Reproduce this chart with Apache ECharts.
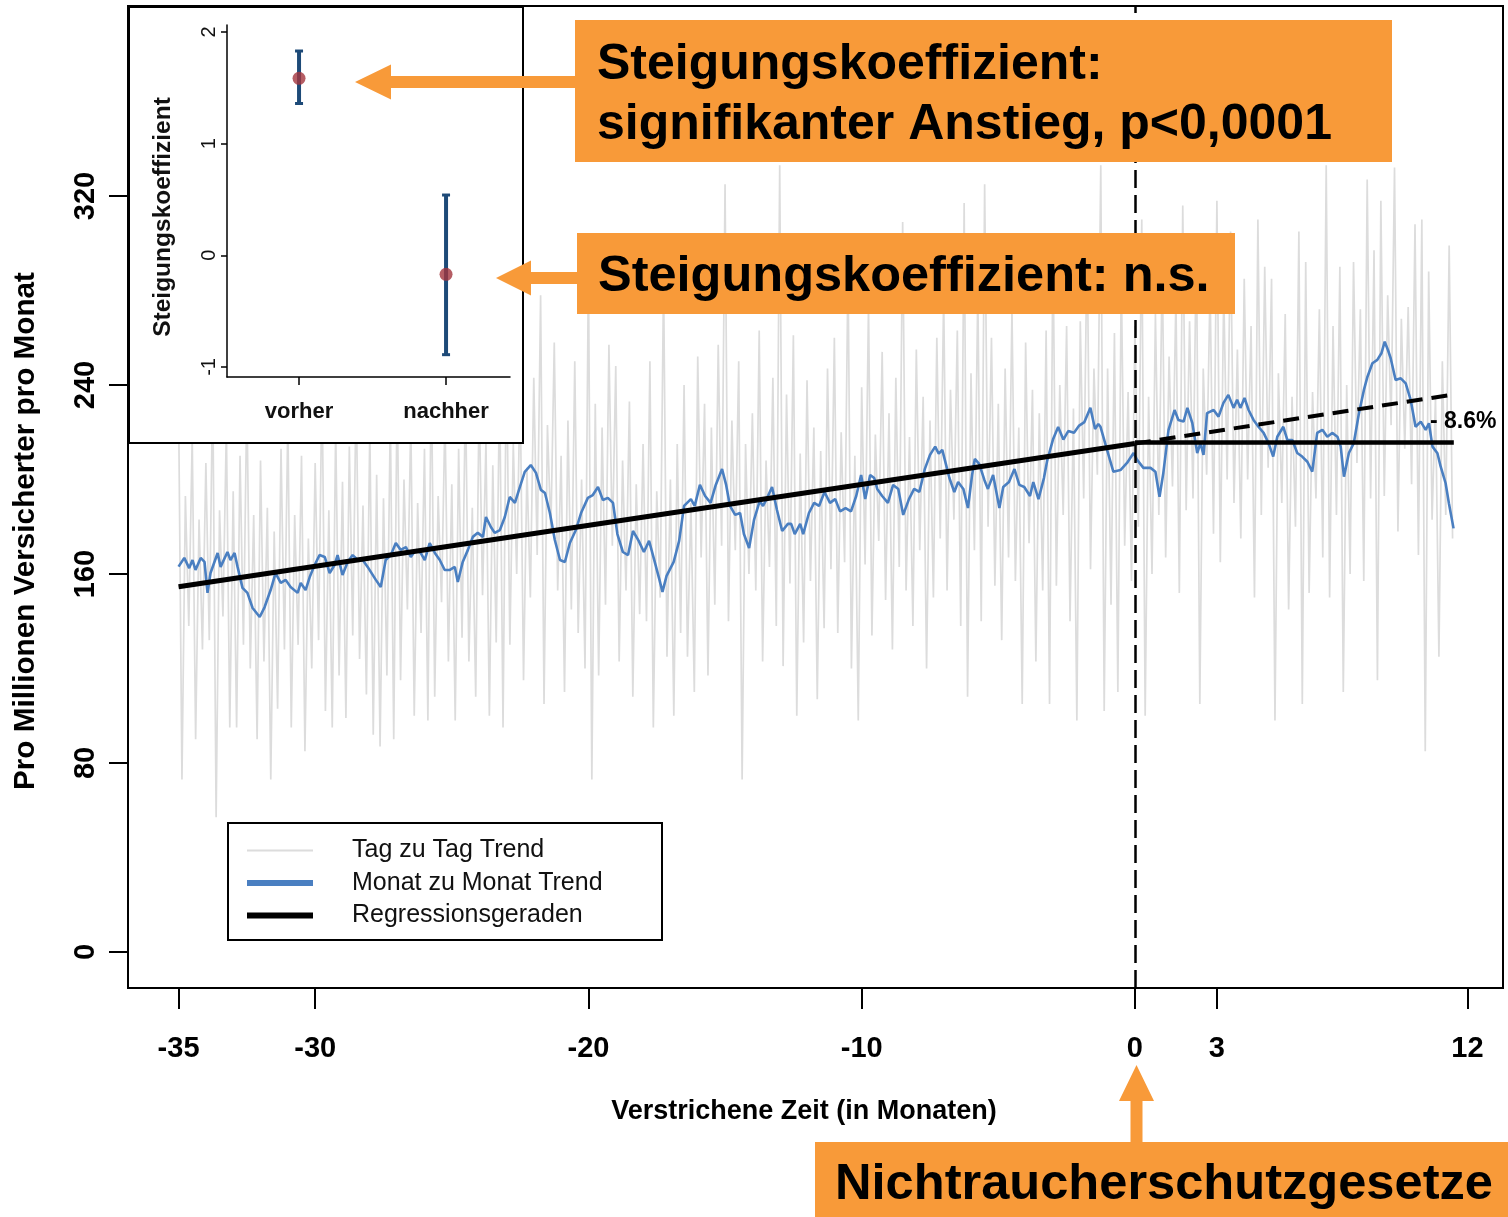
<!DOCTYPE html>
<html>
<head>
<meta charset="utf-8">
<script src="https://cdn.jsdelivr.net/npm/echarts@6/dist/echarts.min.js"></script>
<style>html,body{margin:0;padding:0;background:#fff}#c{width:1508px;height:1217px}</style>
</head>
<body>
<div id="c"></div>
<script>
// ---------------- data ----------------
const xTickValues = [-35, -30, -20, -10, 0, 3, 12.17];
const xTickLabels = ['-35', '-30', '-20', '-10', '0', '3', '12'];
const yTickValues = [0, 80, 160, 240, 320];

// Tag zu Tag Trend (one reading every 0.125 months, starting at -35)
const dailyStart = -35;
const dailyStep = 0.125;
const dailyValues = [
233,73,193,138,218,90,183,128,
207,132,242,57,187,142,222,95,
195,95,210,130,235,120,185,90,
208,123,188,73,178,103,213,128,
225,95,185,130,210,85,175,120,
207,132,242,102,187,95,222,117,
199,99,214,134,239,124,189,109,
222,92,202,87,192,117,227,90,
240,115,200,145,225,100,190,135,
213,98,248,108,193,148,228,123,
198,98,213,133,238,123,188,108,
236,151,216,100,206,131,241,95,
255,130,215,160,240,115,205,150,
243,168,278,105,223,178,258,153,
210,110,225,145,250,135,200,120,
290,73,232,117,222,147,257,172,
248,123,208,153,233,108,198,143,
215,140,250,95,195,150,285,125,
200,100,215,135,240,125,190,110,
252,167,232,117,222,147,257,172,
325,140,225,170,250,73,215,160,
228,153,263,123,208,163,243,138,
333,121,236,156,261,100,211,131,
242,157,222,107,212,137,247,162,
260,135,220,165,290,120,210,98,
239,164,274,134,219,174,254,149,
228,128,243,163,309,153,218,138,
255,170,235,120,225,150,260,175,
278,153,238,183,263,138,317,108,
245,170,280,140,325,180,260,155,
232,132,247,167,272,157,222,105,
258,173,238,123,228,153,263,105,
300,155,240,185,265,140,230,98,
267,192,302,162,247,202,333,102,
247,147,262,110,287,172,237,157,
265,180,310,100,235,160,270,185,
292,167,252,197,277,152,316,187,
267,192,302,105,247,202,282,177,
318,165,280,200,305,190,255,175,
285,200,265,150,310,185,290,205,
285,98,245,190,270,145,235,180,
305,105,292,152,237,192,272,167,
333,150,265,185,290,110,240,160,
292,207,272,157,327,192,297,115,
318,193,278,223,332,178,268,213,
273,198,308,168,310,85,288,183,
235,125,250,185,299,175
];

// Monat zu Monat Trend
const monthlyMonths = [
-35.0,-34.79,-34.61,-34.49,-34.38,-34.19,-34.05,-33.94,-33.83,-33.57,
-33.46,-33.21,-33.10,-32.95,-32.84,-32.66,-32.48,-32.29,-32.03,-31.85,
-31.63,-31.45,-31.26,-31.08,-30.90,-30.64,-30.53,-30.35,-30.20,-30.02,
-29.84,-29.65,-29.47,-29.29,-29.18,-29.00,-28.81,-28.63,-28.44,-28.26,
-28.08,-27.78,-27.60,-27.42,-27.23,-27.05,-26.87,-26.68,-26.50,-26.32,
-26.14,-25.99,-25.81,-25.62,-25.44,-25.26,-25.07,-24.89,-24.78,-24.60,
-24.41,-24.23,-24.05,-23.86,-23.75,-23.57,-23.43,-23.24,-23.06,-22.88,
-22.69,-22.51,-22.33,-22.11,-21.92,-21.74,-21.59,-21.41,-21.23,-21.04,
-20.86,-20.68,-20.46,-20.27,-20.02,-19.84,-19.65,-19.47,-19.29,-19.10,
-18.94,-18.74,-18.55,-18.37,-18.16,-17.97,-17.78,-17.60,-17.40,-17.29,
-17.14,-16.88,-16.68,-16.50,-16.25,-16.11,-15.92,-15.73,-15.53,-15.34,
-15.11,-14.96,-14.82,-14.63,-14.45,-14.31,-14.12,-13.94,-13.73,-13.61,
-13.48,-13.28,-13.10,-12.91,-12.70,-12.58,-12.45,-12.25,-12.14,-11.93,
-11.74,-11.56,-11.36,-11.16,-10.97,-10.79,-10.59,-10.39,-10.20,-10.02,
-9.87,-9.69,-9.54,-9.43,-9.25,-9.04,-8.85,-8.66,-8.48,-8.27,
-8.08,-7.89,-7.69,-7.50,-7.31,-7.18,-7.05,-6.92,-6.79,-6.61,
-6.47,-6.28,-6.11,-5.96,-5.86,-5.70,-5.51,-5.38,-5.19,-4.96,
-4.82,-4.61,-4.41,-4.23,-4.05,-3.84,-3.72,-3.53,-3.33,-3.21,
-3.00,-2.81,-2.62,-2.44,-2.23,-2.04,-1.85,-1.63,-1.46,-1.34,
-1.26,-1.02,-0.79,-0.53,-0.29,-0.05,0.08,0.31,0.57,0.75,
0.90,1.04,1.23,1.45,1.59,1.78,1.92,2.10,2.28,2.40,
2.51,2.64,2.88,3.06,3.24,3.42,3.61,3.74,3.86,4.01,
4.16,4.34,4.52,4.71,4.89,5.06,5.21,5.43,5.58,5.76,
5.94,6.12,6.31,6.49,6.67,6.86,7.04,7.22,7.41,7.53,
7.65,7.83,8.01,8.20,8.38,8.51,8.69,8.87,9.02,9.14,
9.26,9.36,9.54,9.73,9.91,10.09,10.27,10.46,10.64,10.76,
10.89,11.07,11.19,11.37,11.49,11.66
];
const monthlyValues = [
163.1,166.8,162.5,165.9,161.7,166.8,165.1,152.0,160.4,168.9,
163.0,169.3,165.9,168.9,163.0,154.1,152.0,145.6,141.8,146.0,
153.2,160.4,156.2,157.5,154.5,152.0,156.2,153.2,158.7,163.8,
168.0,167.2,160.4,163.8,168.0,159.6,165.1,168.0,165.9,165.9,
163.0,157.5,154.5,165.9,168.0,173.1,170.2,171.4,167.2,170.2,
168.9,165.9,173.1,168.9,165.9,161.7,161.7,163.0,156.6,165.1,
170.2,175.7,177.4,175.7,184.1,179.9,177.4,178.6,184.1,192.6,
190.1,196.8,203.2,206.1,202.8,195.6,194.3,185.8,174.4,165.9,
165.1,173.1,178.6,185.8,192.2,193.4,196.8,191.3,192.2,190.1,
176.9,169.3,168.0,178.2,174.0,169.3,174.0,166.3,157.5,152.4,
159.2,165.1,174.0,188.8,191.7,188.8,197.7,193.0,190.1,197.7,
204.4,197.7,188.8,185.0,185.8,176.9,171.0,182.9,190.9,188.8,
191.7,196.8,187.1,178.2,181.2,181.2,176.9,181.2,176.9,185.8,
190.1,188.8,194.7,190.1,191.7,186.5,187.9,186.5,193.0,201.9,
191.7,201.9,200.6,196.0,193.0,190.1,197.7,196.0,185.0,191.7,
196.0,194.7,204.4,210.4,213.9,210.9,212.5,206.6,200.6,194.7,
198.9,196.0,187.9,201.9,208.7,206.6,199.8,196.0,201.9,187.9,
196.8,198.9,204.4,197.7,196.8,193.0,198.9,191.7,200.6,208.0,
216.9,222.2,216.9,220.5,219.8,222.8,224.3,230.3,221.4,223.5,
222.3,212.5,203.3,204.0,207.0,211.2,208.3,204.9,204.9,203.3,
192.7,202.8,221.0,229.4,225.2,224.5,230.3,223.9,211.2,215.4,
210.4,228.1,229.4,226.6,232.4,235.8,230.3,233.7,230.3,234.5,
229.4,225.2,222.3,219.7,215.4,209.7,218.1,222.3,216.7,216.7,
211.2,209.7,207.5,203.3,219.7,221.0,218.1,219.7,218.1,213.9,
201.2,211.2,215.4,228.1,237.9,243.5,249.2,250.6,253.4,258.3,
254.8,251.3,242.1,242.8,240.7,233.7,222.3,224.5,221.0,223.8,
213.9,211.1,205.4,198.4,189.9,179.3
];

// Regressionsgeraden
const regBeforeX = [-35, 0];
const regBeforeY = [154.6, 215.2];
const regAfterX = [0, 11.67];
const regAfterY = [215.6, 215.6];
const counterX = [0, 11.58];
const counterY = [215.2, 235.8];

// Inset: Steigungskoeffizient
const insetCategories = ['vorher', 'nachher'];
const insetCoef = [1.585, -0.17];
const insetLow = [1.36, -0.89];
const insetHigh = [1.83, 0.54];
const insetTicks = [-1, 0, 1, 2];

// ---------------- chart ----------------
const FONT = '"Liberation Sans", Arial, sans-serif';
const ORANGE = '#F89A39';
const chart = echarts.init(document.getElementById('c'), null, {renderer: 'canvas', width: 1508, height: 1217});

const insetIdx = insetCategories.map((c, i) => i);

const option = {
  animation: false,
  backgroundColor: '#ffffff',
  grid: [
    {left: 128, top: 6, right: 5, bottom: 229, show: true, borderColor: '#000', borderWidth: 2, backgroundColor: 'transparent', outerBoundsMode: 'none', containLabel: false},
    {left: 227, top: 25, width: 283, height: 352, outerBoundsMode: 'none', containLabel: false}
  ],
  legend: {
    data: [
      {name: 'Tag zu Tag Trend', icon: 'path://M0,0L0.01,0M0,6L0.01,6M0,2H67V4H0Z'},
      {name: 'Monat zu Monat Trend', icon: 'rect'},
      {name: 'Regressionsgeraden', icon: 'rect'}
    ],
    orient: 'vertical', left: 247, top: 837, padding: 0, itemGap: 5.5,
    itemWidth: 66, itemHeight: 6, selectedMode: false, z: 60,
    textStyle: {fontFamily: FONT, fontSize: 25, color: '#111', padding: [0, 0, 0, 34], lineHeight: 27}
  },
  xAxis: [
    {
      type: 'value', gridIndex: 0, min: -36.85, max: 13.47,
      axisLine: {show: true, onZero: false, lineStyle: {color: '#000', width: 2}},
      axisTick: {show: true, customValues: xTickValues, length: 21, lineStyle: {color: '#000', width: 2}},
      axisLabel: {customValues: xTickValues, formatter: v => xTickLabels[xTickValues.indexOf(v)],
        fontFamily: FONT, fontSize: 29, fontWeight: 'bold', color: '#000', margin: 46},
      splitLine: {show: false},
      name: 'Verstrichene Zeit (in Monaten)', nameLocation: 'middle', nameGap: 110,
      nameTextStyle: {fontFamily: FONT, fontSize: 27, fontWeight: 'bold', color: '#000', padding: [0, 23, 0, 0]}
    },
    {
      type: 'value', gridIndex: 1, min: -0.49, max: 1.435, z: 110,
      axisLine: {show: true, onZero: false, lineStyle: {color: '#000', width: 1.5}},
      axisTick: {show: true, customValues: insetIdx, length: 8, lineStyle: {color: '#000', width: 1.5}},
      axisLabel: {customValues: insetIdx, formatter: v => insetCategories[Math.round(v)],
        fontFamily: FONT, fontSize: 22, fontWeight: 'bold', color: '#111', margin: 24},
      splitLine: {show: false}
    }
  ],
  yAxis: [
    {
      type: 'value', gridIndex: 0, min: -15.24, max: 400.4,
      axisLine: {show: true, onZero: false, lineStyle: {color: '#000', width: 2}},
      axisTick: {show: true, customValues: yTickValues, length: 19, lineStyle: {color: '#000', width: 2}},
      axisLabel: {customValues: yTickValues, rotate: 90, fontFamily: FONT, fontSize: 29, fontWeight: 'bold', color: '#000', margin: 28},
      splitLine: {show: false},
      name: 'Pro Millionen Versicherter pro Monat', nameLocation: 'middle', nameGap: 87, nameRotate: 90,
      nameTextStyle: {fontFamily: FONT, fontSize: 29.7, fontWeight: 'bold', color: '#000', padding: [0, 68, 0, 0]}
    },
    {
      type: 'value', gridIndex: 1, min: -1.09, max: 2.063, z: 110,
      axisLine: {show: true, onZero: false, lineStyle: {color: '#000', width: 1.5}},
      axisTick: {show: true, customValues: insetTicks, length: 6, lineStyle: {color: '#000', width: 1.5}},
      axisLabel: {customValues: insetTicks, rotate: 90, fontFamily: FONT, fontSize: 20, color: '#111', margin: 8},
      splitLine: {show: false},
      name: 'Steigungskoeffizient', nameLocation: 'middle', nameGap: 51, nameRotate: 90,
      nameTextStyle: {fontFamily: FONT, fontSize: 24.5, fontWeight: 'bold', color: '#111', padding: [0, 32, 0, 0]}
    }
  ],
  series: [
    {
      name: 'Tag zu Tag Trend', type: 'line', xAxisIndex: 0, yAxisIndex: 0,
      data: dailyValues.map((v, i) => [dailyStart + i * dailyStep, v]),
      symbol: 'none', color: '#dcdcdc', lineStyle: {width: 1.7}, z: 1, silent: true
    },
    {
      name: 'Monat zu Monat Trend', type: 'line', xAxisIndex: 0, yAxisIndex: 0,
      data: monthlyMonths.map((m, i) => [m, monthlyValues[i]]),
      symbol: 'none', color: '#4a7fc1', lineStyle: {width: 2.6}, z: 3, silent: true
    },
    {
      name: 'Regressionsgeraden', type: 'line', xAxisIndex: 0, yAxisIndex: 0,
      data: regBeforeX.map((x, i) => [x, regBeforeY[i]]),
      symbol: 'none', color: '#000', lineStyle: {width: 5}, z: 4, silent: true
    },
    {
      name: 'Regressionsgeraden', type: 'line', xAxisIndex: 0, yAxisIndex: 0,
      data: regAfterX.map((x, i) => [x, regAfterY[i]]),
      symbol: 'none', color: '#000', lineStyle: {width: 4.5}, z: 4, silent: true
    },
    {
      name: 'Erwarteter Trend', type: 'line', xAxisIndex: 0, yAxisIndex: 0,
      data: counterX.map((x, i) => [x, counterY[i]]),
      symbol: 'none', color: '#000', lineStyle: {width: 4, type: [16, 9]}, z: 4, silent: true,
      markLine: {
        silent: true, symbol: ['none', 'none'], label: {show: false},
        lineStyle: {color: '#000', width: 2.5, type: [18, 7]},
        data: [{xAxis: 0}]
      }
    },
    {
      name: 'Konfidenzintervall', type: 'custom', xAxisIndex: 1, yAxisIndex: 1, z: 120, silent: true,
      data: insetIdx.map(i => [i, insetLow[i], insetHigh[i]]),
      renderItem: function (params, api) {
        const x = api.value(0);
        const lo = api.coord([x, api.value(1)]);
        const hi = api.coord([x, api.value(2)]);
        const col = '#1d4a78';
        return {
          type: 'group', children: [
            {type: 'line', shape: {x1: lo[0], y1: lo[1], x2: hi[0], y2: hi[1]}, style: {stroke: col, lineWidth: 4}},
            {type: 'line', shape: {x1: lo[0] - 4, y1: lo[1], x2: lo[0] + 4, y2: lo[1]}, style: {stroke: col, lineWidth: 3}},
            {type: 'line', shape: {x1: hi[0] - 4, y1: hi[1], x2: hi[0] + 4, y2: hi[1]}, style: {stroke: col, lineWidth: 3}}
          ]
        };
      }
    },
    {
      name: 'Koeffizient', type: 'scatter', xAxisIndex: 1, yAxisIndex: 1, z: 130, silent: true,
      data: insetIdx.map(i => [i, insetCoef[i]]),
      symbol: 'circle', symbolSize: 13, itemStyle: {color: '#a3353d'}
    }
  ],
  graphic: [
    // inset frame
    {type: 'rect', z: 100, shape: {x: 129, y: 7, width: 394, height: 436}, style: {fill: '#fff', stroke: '#000', lineWidth: 2}},
    // legend frame
    {type: 'rect', z: 50, shape: {x: 228, y: 823, width: 434, height: 117}, style: {fill: '#fff', stroke: '#000', lineWidth: 2}},
    // arrows
    {type: 'polygon', z: 200, shape: {points: [[355, 82], [391, 64.5], [391, 76], [577, 76], [577, 88], [391, 88], [391, 99.5]]}, style: {fill: ORANGE}},
    {type: 'polygon', z: 200, shape: {points: [[496, 278], [531, 260.5], [531, 272], [579, 272], [579, 284], [531, 284], [531, 295.5]]}, style: {fill: ORANGE}},
    {type: 'polygon', z: 200, shape: {points: [[1136.5, 1065], [1154, 1101], [1142.5, 1101], [1142.5, 1144], [1130.5, 1144], [1130.5, 1101], [1119, 1101]]}, style: {fill: ORANGE}},
    // boxes
    {type: 'rect', z: 200, shape: {x: 575, y: 20, width: 817, height: 142}, style: {fill: ORANGE}},
    {type: 'rect', z: 200, shape: {x: 577, y: 233, width: 658, height: 81}, style: {fill: ORANGE}},
    {type: 'rect', z: 200, shape: {x: 815, y: 1142, width: 693, height: 75}, style: {fill: ORANGE}},
    {type: 'text', z: 201, x: 597, y: 95, style: {text: 'Steigungskoeffizient:\nsignifikanter Anstieg, p<0,0001', fontFamily: FONT, fontSize: 50, fontWeight: 'bold', fill: '#000', align: 'left', verticalAlign: 'middle', lineHeight: 60}},
    {type: 'text', z: 201, x: 598, y: 277, style: {text: 'Steigungskoeffizient: n.s.', fontFamily: FONT, fontSize: 50.5, fontWeight: 'bold', fill: '#000', align: 'left', verticalAlign: 'middle'}},
    {type: 'text', z: 201, x: 835, y: 1185, style: {text: 'Nichtraucherschutzgesetze', fontFamily: FONT, fontSize: 50.6, fontWeight: 'bold', fill: '#000', align: 'left', verticalAlign: 'middle'}},
    {type: 'text', z: 201, x: 1430, y: 422, style: {text: '- 8.6%', fontFamily: FONT, fontSize: 23, fontWeight: 'bold', fill: '#000', align: 'left', verticalAlign: 'middle'}}
  ]
};
chart.setOption(option);
</script>
</body>
</html>
